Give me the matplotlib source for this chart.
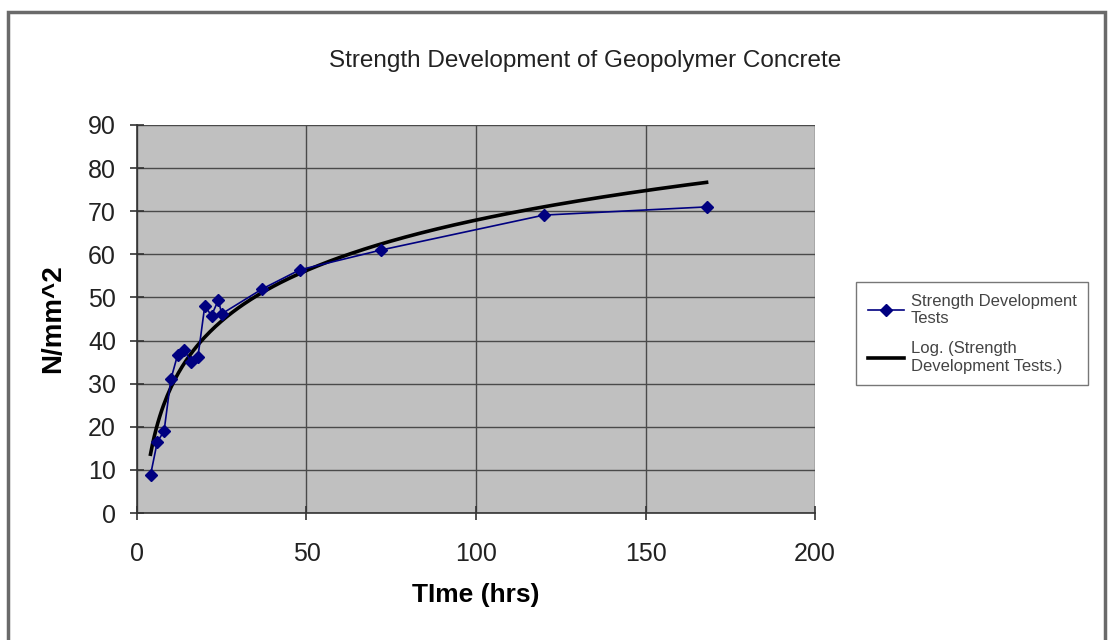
import numpy as np
import matplotlib.pyplot as plt
from matplotlib.patches import Rectangle

# Test data
time_hrs = [4, 6, 8, 10, 12, 14, 16, 18, 20, 22, 24, 25, 37, 48, 72, 120, 168]
strength = [8.8, 16.5, 19.0, 31.0, 36.7, 37.8, 35.0, 36.3, 48.0, 45.8, 49.4, 46.2,
            52.0, 56.4, 61.0, 69.1, 71.0]

plt.rcParams["font.family"] = ["Liberation Sans", "DejaVu Sans"]

fig = plt.figure(figsize=(11.08, 6.4), dpi=100)
ax = fig.add_axes([0.1236, 0.1984, 0.612, 0.6063])

# outer chart frame
fig.patches.append(Rectangle((0.007, -0.05), 0.990, 1.031, transform=fig.transFigure,
                             fill=False, edgecolor="#6a6a6a", linewidth=2.5))

ax.set_facecolor("#c0c0c0")

# logarithmic trendline, Excel style: y = a*ln(x) + b
a, b = np.polyfit(np.log(time_hrs), strength, 1)
xs = np.linspace(min(time_hrs), max(time_hrs), 300)
ax.plot(xs, a * np.log(xs) + b, color="black", linewidth=2.6,
        label="Log. (Strength\nDevelopment Tests.)", zorder=3)

ax.plot(time_hrs, strength, color="#000080", linewidth=1.2, marker="D",
        markersize=6, label="Strength Development\nTests", zorder=4)

ax.set_xlim(0, 200)
ax.set_ylim(0, 90)
ax.set_xticks(range(0, 201, 50))
ax.set_yticks(range(0, 91, 10))
ax.grid(True, color="#4a4a4a", linewidth=1.0)
ax.set_axisbelow(True)

for side in ["top", "right"]:
    ax.spines[side].set_visible(False)
for side in ["left", "bottom"]:
    ax.spines[side].set_color("#333333")
    ax.spines[side].set_linewidth(1.2)

ax.tick_params(direction="inout", length=10, width=1.2, color="#333333",
               labelsize=18, labelcolor="#222222")
ax.tick_params(axis="x", pad=16)
ax.tick_params(axis="y", pad=10)

ax.set_xlabel("TIme (hrs)", fontsize=19, fontweight="bold", labelpad=12)
ax.set_ylabel("N/mm^2", fontsize=20, fontweight="bold", labelpad=16)
fig.text(0.528, 0.905, "Strength Development of Geopolymer Concrete",
         ha="center", va="center", fontsize=17.5, color="#222222")

handles, labels = ax.get_legend_handles_labels()
leg = ax.legend(handles[::-1], labels[::-1], loc="center left",
                bbox_to_anchor=(1.048, 0.462), fontsize=12, frameon=True,
                fancybox=False, edgecolor="#555555", handlelength=2.2,
                labelspacing=0.9, borderpad=0.7, handletextpad=0.4)
for t in leg.get_texts():
    t.set_color("#444444")

fig.savefig("out.png", dpi=100, facecolor="white")
